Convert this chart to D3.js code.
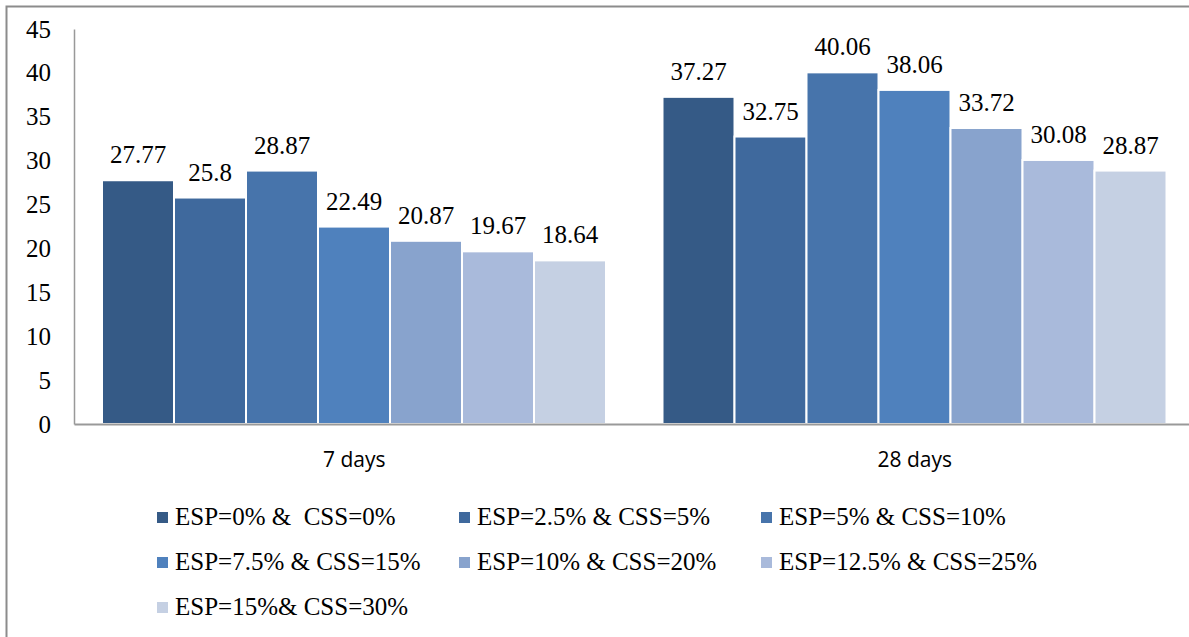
<!DOCTYPE html>
<html>
<head>
<meta charset="utf-8">
<script src="https://cdn.jsdelivr.net/npm/d3@7"></script>
<style>
    body { margin: 0; background: #fff; }
    svg { display: block; }
    svg text.serif { font-family: "Times New Roman", Times, "Liberation Serif", "DejaVu Serif", "Noto Serif", serif; }
</style>
</head>
<body>
<div id="chart"></div>
<script>
// data
var groups = ["7 days", "28 days"];
var seriesNames = [
    "ESP=0% &  CSS=0%",
    "ESP=2.5% & CSS=5%",
    "ESP=5% & CSS=10%",
    "ESP=7.5% & CSS=15%",
    "ESP=10% & CSS=20%",
    "ESP=12.5% & CSS=25%",
    "ESP=15%& CSS=30%"
];
var values7 = [27.77, 25.8, 28.87, 22.49, 20.87, 19.67, 18.64];
var values28 = [37.27, 32.75, 40.06, 38.06, 33.72, 30.08, 28.87];
var yTicks = [0, 5, 10, 15, 20, 25, 30, 35, 40, 45];
var colors = ["#355a86", "#3f699d", "#4774ab", "#4f81bd", "#88a3cd", "#a9badb", "#c5d0e3"];

var W = 1189, H = 637;
var svg = d3.select("#chart")
    .append("svg")
    .attr("width", W)
    .attr("height", H);

// outer frame (cut off on the right and bottom)
svg.append("rect")
    .attr("x", 6.5).attr("y", 6.5)
    .attr("width", W + 20).attr("height", H + 20)
    .attr("fill", "none")
    .attr("stroke", "#8c8c8c")
    .attr("stroke-width", 2);

var x0 = d3.scaleBand()
    .domain(groups)
    .range([74, 1195]);

var x1 = d3.scaleBand()
    .domain(d3.range(seriesNames.length))
    .range([28, 532]);

var y = d3.scaleLinear()
    .domain([0, 45])
    .range([424, 29]);

// Y axis
var yAxis = svg.append("g")
    .attr("transform", "translate(74,0)")
    .call(d3.axisLeft(y).tickValues(yTicks).tickSize(0).tickPadding(23));
yAxis.attr("font-family", null).attr("font-size", null);
yAxis.select(".domain").attr("stroke", "#999").attr("stroke-width", 1.5);
yAxis.selectAll("text")
    .attr("class", "serif")
    .style("font-size", "25px")
    .attr("fill", "#000");

// bars
var table = groups.map(function (g, i) {
    var vals = i === 0 ? values7 : values28;
    return vals.map(function (v, j) { return { group: g, idx: j, value: v }; });
});

var gGroups = svg.selectAll(".grp")
    .data(table)
    .enter()
    .append("g")
    .attr("class", "grp")
    .attr("transform", function (d, i) { return "translate(" + x0(groups[i]) + ",0)"; });

gGroups.selectAll("rect")
    .data(function (d) { return d; })
    .enter()
    .append("rect")
    .attr("x", function (d) { return x1(d.idx); })
    .attr("y", function (d) { return y(d.value); })
    .attr("width", x1.bandwidth())
    .attr("height", function (d) { return y(0) - y(d.value); })
    .attr("fill", function (d) { return colors[d.idx]; })
    .attr("stroke", "#fff")
    .attr("stroke-width", 2);

gGroups.selectAll("text")
    .data(function (d) { return d; })
    .enter()
    .append("text")
    .attr("class", "serif")
    .attr("x", function (d) { return x1(d.idx) + x1.bandwidth() / 2; })
    .attr("y", function (d) { return y(d.value) - 17; })
    .attr("text-anchor", "middle")
    .style("font-size", "25px")
    .text(function (d) { return d.value; });

// X axis
var xAxis = svg.append("g")
    .attr("transform", "translate(0,424)")
    .call(d3.axisBottom(x0).tickSize(0).tickPadding(28));
xAxis.attr("font-family", null).attr("font-size", null);
xAxis.select(".domain").attr("stroke", "#999").attr("stroke-width", 2);
xAxis.selectAll("text")
    .style("font-family", "'Open Sans', 'Liberation Sans', sans-serif")
    .style("font-size", "21px")
    .attr("fill", "#000");

// legend
var legendCols = [157, 459, 761];
var legendRows = [517, 562, 607];
var legend = svg.selectAll(".legend")
    .data(seriesNames)
    .enter()
    .append("g")
    .attr("class", "legend")
    .attr("transform", function (d, i) {
        return "translate(" + legendCols[i % 3] + "," + legendRows[Math.floor(i / 3)] + ")";
    });

legend.append("rect")
    .attr("x", 0).attr("y", -5)
    .attr("width", 11).attr("height", 11)
    .attr("fill", function (d, i) { return colors[i]; });

legend.append("text")
    .attr("class", "serif")
    .attr("x", 18)
    .attr("y", 8)
    .style("font-size", "25px")
    .style("white-space", "pre")
    .text(function (d) { return d; });
</script>
</body>
</html>
